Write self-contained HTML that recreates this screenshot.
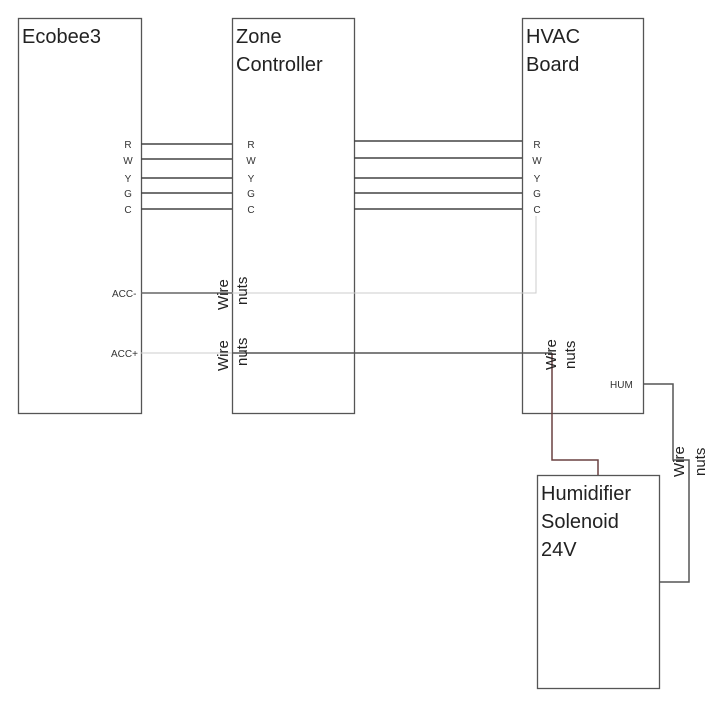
<!DOCTYPE html>
<html><head><style>body{margin:0;background:#fff}</style></head><body>
<svg width="728" height="712" xmlns="http://www.w3.org/2000/svg" style="display:block">
<g fill="none" stroke="#555" stroke-width="1.3">
<rect x="18.5" y="18.5" width="123" height="395"/>
<rect x="232.5" y="18.5" width="122" height="395"/>
<rect x="522.5" y="18.5" width="121" height="395"/>
<rect x="537.5" y="475.5" width="122" height="213"/>
</g>
<g stroke="#444" stroke-width="1.5">
<line x1="141" y1="144" x2="232" y2="144"/><line x1="141" y1="159" x2="232" y2="159"/>
<line x1="141" y1="178" x2="232" y2="178"/><line x1="141" y1="193" x2="232" y2="193"/>
<line x1="141" y1="209" x2="232" y2="209"/>
<line x1="354" y1="141" x2="522" y2="141"/><line x1="354" y1="158" x2="522" y2="158"/>
<line x1="354" y1="178" x2="522" y2="178"/><line x1="354" y1="193" x2="522" y2="193"/>
<line x1="354" y1="209" x2="522" y2="209"/>
<line x1="141" y1="293" x2="232" y2="293" stroke="#666"/>
<line x1="232" y1="353" x2="552" y2="353" stroke="#555"/>
</g>
<g stroke="#ccc" stroke-width="1" fill="none">
<polyline points="536,216 536,293 232,293"/>
<line x1="141" y1="353" x2="232" y2="353"/>
</g>
<polyline points="552,353 552,460 598,460 598,475" fill="none" stroke="#6a4040" stroke-width="1.5"/>
<polyline points="643,384 673,384 673,460 689,460 689,582 659,582" fill="none" stroke="#555" stroke-width="1.5"/>
<g font-family="Liberation Sans, sans-serif" fill="#222" font-size="20">
<text x="22" y="43">Ecobee3</text>
<text x="236" y="43">Zone</text><text x="236" y="71">Controller</text>
<text x="526" y="43">HVAC</text><text x="526" y="71">Board</text>
<text x="541" y="500">Humidifier</text><text x="541" y="528">Solenoid</text><text x="541" y="556">24V</text>
</g>
<g font-family="Liberation Sans, sans-serif" fill="#333" font-size="10">
<g text-anchor="middle">
<text x="128" y="148">R</text><text x="128" y="164">W</text><text x="128" y="182">Y</text><text x="128" y="197">G</text><text x="128" y="213">C</text>
<text x="251" y="148">R</text><text x="251" y="164">W</text><text x="251" y="182">Y</text><text x="251" y="197">G</text><text x="251" y="213">C</text>
<text x="537" y="148">R</text><text x="537" y="164">W</text><text x="537" y="182">Y</text><text x="537" y="197">G</text><text x="537" y="213">C</text>
</g>
<text x="112" y="297">ACC-</text><text x="111" y="357">ACC+</text>
<text x="610" y="388">HUM</text>
</g>
<g font-family="Liberation Sans, sans-serif" fill="#222" font-size="15">
<text transform="translate(228,310) rotate(-90)">Wire</text>
<text transform="translate(247,305) rotate(-90)">nuts</text>
<text transform="translate(228,371) rotate(-90)">Wire</text>
<text transform="translate(247,366) rotate(-90)">nuts</text>
<text transform="translate(556,370) rotate(-90)">Wire</text>
<text transform="translate(575,369) rotate(-90)">nuts</text>
<text transform="translate(684,477) rotate(-90)">Wire</text>
<text transform="translate(705,476) rotate(-90)">nuts</text>
</g>
</svg>
</body></html>
